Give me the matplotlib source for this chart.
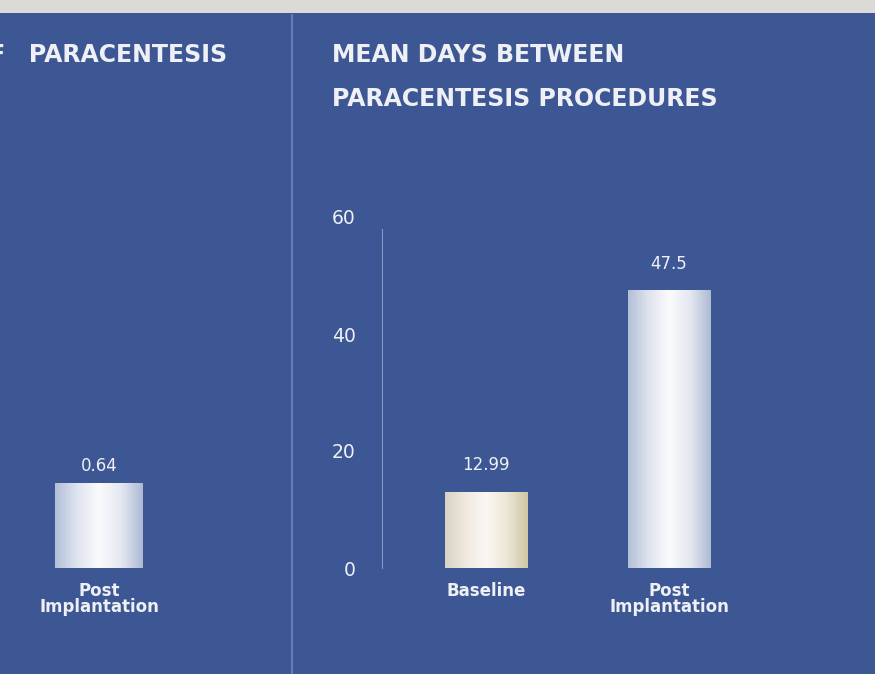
import matplotlib.pyplot as plt
import numpy as np
from matplotlib.colors import LinearSegmentedColormap
from matplotlib.patches import Rectangle
from matplotlib.lines import Line2D

# data
left_title = 'OF\u2003PARACENTESIS'
left_cats = ['Post\nImplantation']
left_vals = [0.64]
left_labels = ['0.64']

right_title = 'MEAN DAYS BETWEEN\nPARACENTESIS PROCEDURES'
right_cats = ['Baseline', 'Post\nImplantation']
right_vals = [12.99, 47.5]
right_labels = ['12.99', '47.5']
right_ticks = [0, 20, 40, 60]

BG = '#3d5694'
TXT = '#eef0f6'
FONT = 'DejaVu Sans'

cool = LinearSegmentedColormap.from_list('cool', ['#b3bfd8', '#dfe4ee', '#fbfbfd', '#e4e8f0', '#aebad4'])
warm = LinearSegmentedColormap.from_list('warm', ['#d9d2c4', '#efe9e0', '#fbf8f4', '#ece6d6', '#cfc6a4'])


def shade_bar(ax, patch, cmap):
    x0, y0 = patch.get_x(), patch.get_y()
    x1, y1 = x0 + patch.get_width(), y0 + patch.get_height()
    grad = np.linspace(0, 1, 256).reshape(1, -1)
    im = ax.imshow(grad, cmap=cmap, extent=(x0, x1, y0, y1), aspect='auto', zorder=3)
    im.set_clip_path(patch)


fig = plt.figure(figsize=(8.75, 6.74), dpi=100)
fig.patch.set_facecolor(BG)

# pale strip at the top of the slide photo
fig.patches.append(Rectangle((0, 661 / 674), 1, 13 / 674, transform=fig.transFigure,
                             facecolor='#dcdad6', edgecolor='none'))
# divider between the two panels
fig.lines.append(Line2D([292 / 875, 292 / 875], [0, 659 / 674], transform=fig.transFigure,
                        color='#6f84ba', lw=1.2))

bottom = (674 - 568) / 674
height = 351 / 674

# left panel (cut off on the left)
axl = fig.add_axes([0, bottom, 290 / 875, height])
axl.set_facecolor('none')
bl = axl.bar(range(len(left_vals)), left_vals, width=0.48, color='#dfe4ee', zorder=2)
for p, lab in zip(bl, left_labels):
    shade_bar(axl, p, cool)
    axl.text(p.get_x() + p.get_width() / 2, p.get_height() + 0.06, lab, ha='center', va='bottom',
             color=TXT, fontsize=12, family=FONT)
axl.set_xlim(-99 / 183, 191 / 183)
axl.set_ylim(0, 2.64)
axl.set_xticks(range(len(left_cats)))
axl.set_xticklabels(left_cats, color=TXT, fontsize=12, family=FONT, weight='bold', linespacing=0.85)
axl.tick_params(axis='x', length=0, pad=10)
axl.set_yticks([])
for s in axl.spines.values():
    s.set_visible(False)

# right panel
axr = fig.add_axes([382 / 875, bottom, 400 / 875, height])
axr.set_facecolor('none')
br = axr.bar(range(len(right_vals)), right_vals, width=0.45, color='#dfe4ee', zorder=2)
for p, lab, cm in zip(br, right_labels, [warm, cool]):
    shade_bar(axr, p, cm)
    axr.text(p.get_x() + p.get_width() / 2, p.get_height() + 3.0, lab, ha='center', va='bottom',
             color=TXT, fontsize=12, family=FONT)
axr.set_xlim(-0.568, 400 / 183 - 0.568)
axr.set_ylim(0, 60)
axr.set_yticks(right_ticks)
axr.set_yticklabels([str(t) for t in right_ticks], color=TXT, fontsize=13.5, family=FONT)
axr.tick_params(axis='y', length=0, pad=19)
axr.set_xticks(range(len(right_cats)))
axr.set_xticklabels(right_cats, color=TXT, fontsize=12, family=FONT, weight='bold', linespacing=0.85)
axr.tick_params(axis='x', length=0, pad=10)
for s in ['top', 'right', 'bottom']:
    axr.spines[s].set_visible(False)
axr.spines['left'].set_color('#8597c4')
axr.spines['left'].set_linewidth(0.8)
axr.spines['left'].set_bounds(0, 58)

# titles
fig.text(227 / 875, 1 - 55 / 674, left_title, ha='right', va='center', color=TXT,
         fontsize=17, family=FONT, weight='bold')
fig.text(332 / 875, 1 - 77 / 674, right_title, ha='left', va='center', color=TXT,
         fontsize=17, family=FONT, weight='bold', linespacing=2.1)

fig.savefig('out.png', dpi=100, facecolor=BG)
